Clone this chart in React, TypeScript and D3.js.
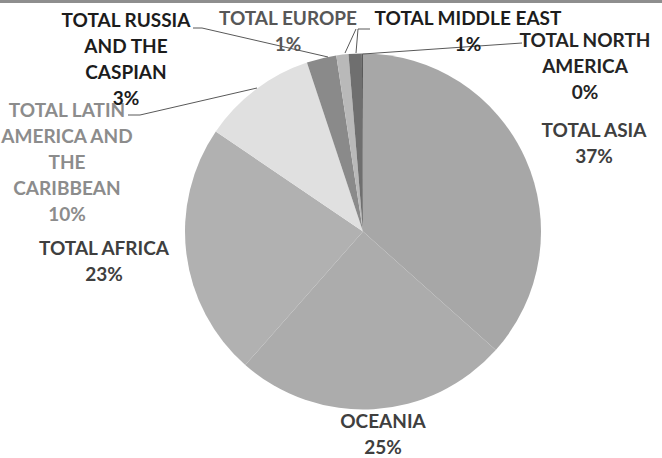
import React from "react";
import * as d3 from "d3";

const regions = [
  "TOTAL ASIA",
  "OCEANIA",
  "TOTAL AFRICA",
  "TOTAL LATIN AMERICA AND THE CARIBBEAN",
  "TOTAL RUSSIA AND THE CASPIAN",
  "TOTAL EUROPE",
  "TOTAL MIDDLE EAST",
  "TOTAL NORTH AMERICA",
];
const shares = [36.6, 24.9, 23.0, 10.4, 2.7, 1.1, 1.2, 0.1];
const sliceColors = ["#a7a7a7", "#acacac", "#b1b1b1", "#e0e0e0", "#8a8a8a", "#b9b9b9", "#6f6f6f", "#5a5a5a"];
const labelLines = [
  ["TOTAL ASIA"],
  ["OCEANIA"],
  ["TOTAL AFRICA"],
  ["TOTAL LATIN", "AMERICA AND", "THE", "CARIBBEAN"],
  ["TOTAL RUSSIA", "AND THE", "CASPIAN"],
  ["TOTAL EUROPE"],
  ["TOTAL MIDDLE EAST"],
  ["TOTAL NORTH", "AMERICA"],
];
const labelColors = ["#3f3f3f", "#3f3f3f", "#3f3f3f", "#8c8c8c", "#1c1c1c", "#575757", "#1c1c1c", "#242424"];
// label anchor (center x, first baseline y)
const labelPos: [number, number][] = [
  [594, 137],
  [383, 428],
  [104, 255],
  [67, 117],
  [126, 27],
  [288, 25],
  [468, 25],
  [585, 47],
];
// leader lines (polyline points)
const leaders: ([number, number][] | null)[] = [
  null,
  null,
  null,
  [[128, 115], [140, 115], [257, 88]],
  [[193, 28], [202, 28], [328, 57]],
  [[345, 53], [356, 29]],
  [[356, 53], [358, 29], [370, 29]],
  [[363, 54], [522, 43]],
];

const W = 662;
const H = 458;
const cx = 363;
const cy = 231.5;
const R = 178;
const lineH = 26;

export default function App() {
  const total = d3.sum(shares);
  const pie = d3.pie<number>().sort(null).value((d) => d)(shares);
  const arc = d3.arc<d3.PieArcDatum<number>>().innerRadius(0).outerRadius(R);
  return (
    <div style={{ position: "fixed", left: 0, top: 0 }}>
      <svg width={W} height={H} style={{ display: "block", background: "#fff" }}>
        <rect x={0} y={0} width={W} height={3} fill="#8e8e8e" />
        <g transform={`translate(${cx},${cy})`}>
          {pie.map((p, i) => (
            <path key={i} d={arc(p) || ""} fill={sliceColors[i]} stroke="none" />
          ))}
        </g>
        {leaders.map((pts, i) =>
          pts ? (
            <polyline
              key={i}
              points={pts.map((p) => p.join(",")).join(" ")}
              fill="none"
              stroke="#595959"
              strokeWidth={1}
            />
          ) : null
        )}
        {labelLines.map((lines, i) => {
          const [x, y] = labelPos[i];
          const pct = Math.round((shares[i] / total) * 100) + "%";
          const all = [...lines, pct];
          return (
            <text
              key={i}
              x={x}
              y={y}
              textAnchor="middle"
              fill={labelColors[i]}
              style={{ fontFamily: "Lato, 'Liberation Sans', sans-serif", fontWeight: 700, fontSize: 19 }}
            >
              {all.map((t, j) => (
                <tspan key={j} x={x} y={y + j * lineH}>
                  {t}
                </tspan>
              ))}
            </text>
          );
        })}
      </svg>
    </div>
  );
}
